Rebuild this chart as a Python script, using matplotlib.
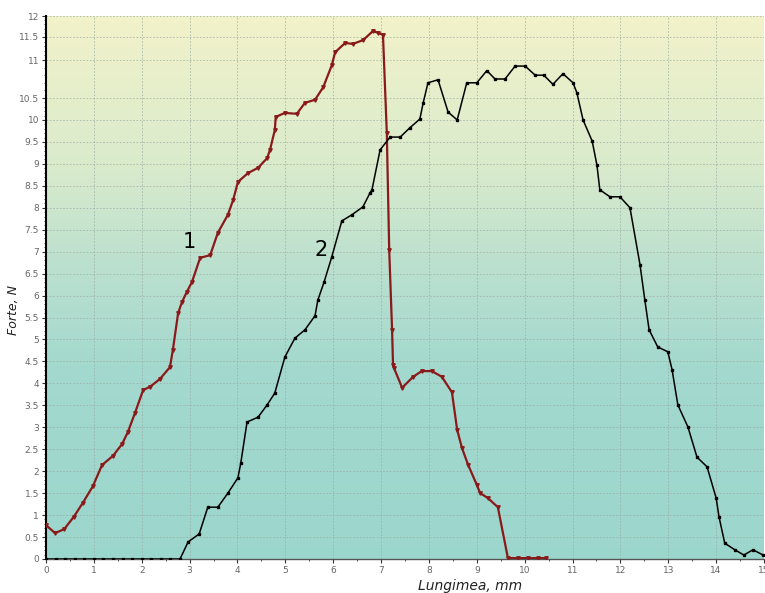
import numpy as np
import matplotlib
matplotlib.use('Agg')
import matplotlib.pyplot as plt
from matplotlib.colors import LinearSegmentedColormap
from matplotlib.ticker import MultipleLocator, FuncFormatter

# curve 1 (red)
x1 = [0.0, 0.19, 0.38, 0.58, 0.77, 0.98, 1.17, 1.40, 1.59, 1.71, 1.86, 2.03, 2.17, 2.38,
      2.59, 2.65, 2.76, 2.84, 2.94, 3.05, 3.22, 3.43, 3.59, 3.80, 3.91, 4.01, 4.22, 4.43,
      4.62, 4.68, 4.78, 4.80, 4.99, 5.24, 5.41, 5.62, 5.79, 5.97, 6.04, 6.25, 6.41, 6.62,
      6.83, 6.94, 7.04, 7.12, 7.17, 7.23, 7.25, 7.27, 7.44, 7.67, 7.85, 8.06, 8.27, 8.48,
      8.59, 8.69, 8.82, 9.00, 9.07, 9.23, 9.44, 9.65, 9.86, 10.07, 10.28, 10.45]
y1 = [0.77, 0.59, 0.68, 0.96, 1.28, 1.66, 2.14, 2.35, 2.62, 2.89, 3.33, 3.85, 3.92, 4.10,
      4.37, 4.76, 5.60, 5.85, 6.08, 6.31, 6.86, 6.92, 7.43, 7.84, 8.18, 8.59, 8.79, 8.91,
      9.13, 9.32, 9.77, 10.07, 10.16, 10.14, 10.39, 10.46, 10.64, 10.93, 11.17, 11.37, 11.35, 11.43,
      11.64, 11.60, 11.55, 9.70, 7.04, 5.22, 4.42, 4.35, 3.90, 4.15, 4.28, 4.28, 4.15, 3.80,
      2.94, 2.53, 2.14, 1.69, 1.50, 1.39, 1.18, 0.02, 0.02, 0.02, 0.02, 0.02]

# curve 2 (black)
x2 = [0.0, 0.2, 0.4, 0.6, 0.8, 1.0, 1.2, 1.4, 1.6, 1.8, 2.0, 2.2, 2.4, 2.6, 2.8,
      2.97, 3.20, 3.38, 3.59, 3.80, 4.01, 4.07, 4.20, 4.43, 4.62, 4.78, 4.99, 5.20, 5.41,
      5.62, 5.68, 5.81, 5.97, 6.18, 6.39, 6.62, 6.77, 6.81, 6.98, 7.19, 7.40, 7.60, 7.81,
      7.88, 7.98, 8.19, 8.40, 8.59, 8.79, 9.00, 9.21, 9.38, 9.59, 9.80, 10.01, 10.22, 10.40,
      10.59, 10.80, 11.01, 11.09, 11.22, 11.41, 11.51, 11.57, 11.78, 11.99, 12.20, 12.41,
      12.51, 12.60, 12.78, 12.99, 13.08, 13.20, 13.41, 13.60, 13.81, 14.00, 14.06, 14.18,
      14.39, 14.58, 14.77, 14.98]
y2 = [0.0] * 15 + [
      0.39, 0.57, 1.18, 1.18, 1.50, 1.85, 2.19, 3.12, 3.23, 3.51, 3.78, 4.60, 5.03, 5.22,
      5.54, 5.90, 6.31, 6.88, 7.70, 7.84, 8.02, 8.34, 8.41, 9.32, 9.61, 9.61, 9.82, 10.02,
      10.39, 10.70, 10.74, 10.18, 10.00, 10.70, 10.70, 10.86, 10.75, 10.75, 10.92, 10.92, 10.80, 10.80,
      10.68, 10.82, 10.70, 10.57, 10.00, 9.52, 8.97, 8.41, 8.25, 8.25, 8.00, 6.70,
      5.90, 5.22, 4.83, 4.72, 4.31, 3.51, 3.01, 2.32, 2.10, 1.39, 0.96, 0.36,
      0.21, 0.09, 0.21, 0.09]

# the scanned axis is stretched above 10.5
y_knots = [-50, 0, 10.5, 11, 11.5, 12, 50]
h_knots = [-2195, 0, 461, 499, 522, 543, 543 + 38 * 42]


def fwd(v):
    return np.interp(v, y_knots, h_knots)


def inv(h):
    return np.interp(h, h_knots, y_knots)


fig = plt.figure(figsize=(7.65, 5.93), dpi=100)
ax = fig.add_axes([46 / 765, 34 / 593, 718 / 765, 543 / 593])
ax.set_yscale('function', functions=(fwd, inv))

# background gradient
bg = LinearSegmentedColormap.from_list('bg', [
    (0.0, (0.61, 0.84, 0.80)),
    (0.35, (0.64, 0.85, 0.81)),
    (0.55, (0.74, 0.88, 0.81)),
    (0.72, (0.85, 0.92, 0.80)),
    (1.0, (0.95, 0.95, 0.79)),
])
grad = np.linspace(0, 1, 256).reshape(-1, 1)
ax.imshow(grad, cmap=bg, origin='lower', extent=[0, 1, 0, 1],
          transform=ax.transAxes, aspect='auto', zorder=0)

ax.plot(x1, y1, color='#8a1a1a', lw=1.6, marker='v', ms=2.5, zorder=3)
ax.plot(x2, y2, color='black', lw=1.1, marker='s', ms=2, zorder=3)

ax.text(3.0, 7.22, '1', fontsize=15, ha='center', va='center', zorder=4)
ax.text(5.75, 7.04, '2', fontsize=15, ha='center', va='center', zorder=4)

ax.set_xlim(0, 15)
ax.set_ylim(0, 12)
ax.xaxis.set_major_locator(MultipleLocator(1))
ax.xaxis.set_minor_locator(MultipleLocator(0.5))
ax.yaxis.set_major_locator(MultipleLocator(0.5))
ax.yaxis.set_minor_locator(MultipleLocator(0.1))
ax.yaxis.set_major_formatter(FuncFormatter(lambda v, p: f'{v:g}'))
ax.xaxis.set_major_formatter(FuncFormatter(lambda v, p: f'{v:g}'))

ax.grid(True, which='major', color='#9aaaa2', ls=(0, (2, 2)), lw=0.6, alpha=0.8)
for line in ax.get_xgridlines() + ax.get_ygridlines():
    line.set_zorder(1)

ax.tick_params(which='both', direction='out', colors='#333333', labelcolor='#666666',
               labelsize=6.5, pad=2)
ax.tick_params(which='major', length=3)
ax.tick_params(which='minor', length=1.5)

for s in ['top', 'right']:
    ax.spines[s].set_visible(False)
ax.spines['left'].set_linewidth(1.5)
ax.spines['bottom'].set_linewidth(1.0)
ax.spines['bottom'].set_color('#555555')

fig.text(14 / 765, 1 - 310 / 593, 'Forte, N', rotation=90, fontsize=9, style='italic',
         color='#222222', ha='center', va='center')
fig.text(470 / 765, 1 - 586 / 593, 'Lungimea, mm', fontsize=10, style='italic',
         color='#222222', ha='center', va='center')

fig.savefig('out.png', dpi=100)
